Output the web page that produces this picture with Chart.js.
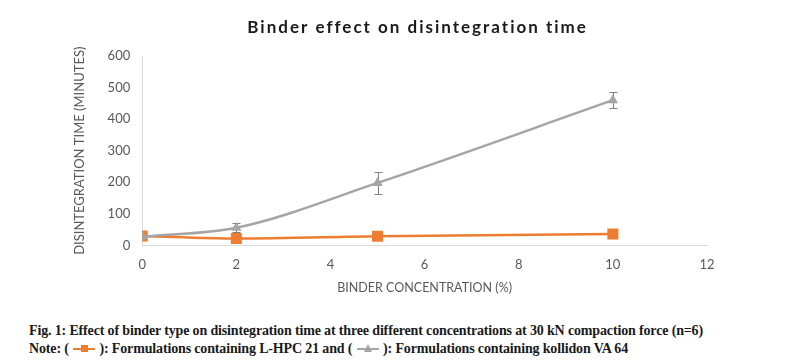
<!DOCTYPE html>
<html><head><meta charset="utf-8">
<script src="https://cdn.jsdelivr.net/npm/chart.js@4.4.0/dist/chart.umd.min.js"></script>
<style>
html,body{margin:0;padding:0;background:#fff;width:787px;height:362px;overflow:hidden;}
#wrap{position:relative;width:787px;height:362px;}
#c{position:absolute;left:0;top:0;}
#cap{position:absolute;left:29px;top:322px;font-family:"Liberation Serif","Times New Roman",serif;font-weight:bold;font-size:14px;line-height:18px;color:#1a1a1a;white-space:nowrap;letter-spacing:-0.15px;}
.ic{display:inline-block;position:relative;width:22px;height:10px;vertical-align:-1px;margin:0 1px;}
.ic .ln{position:absolute;left:0;right:0;top:4px;height:2px;}
.ic .sq{position:absolute;left:8px;top:1px;width:7px;height:7px;background:#ed7d31;}
.ic .tr{position:absolute;left:7px;top:0px;width:0;height:0;border-left:4px solid transparent;border-right:4px solid transparent;border-bottom:8px solid #a5a5a5;}
</style></head>
<body><div id="wrap">
<canvas id="c" width="787" height="305"></canvas>
<div id="cap">Fig. 1: Effect of binder type on disintegration time at three different concentrations at 30 kN compaction force (n=6)<br>Note: ( <span class="ic"><span class="ln" style="background:#ed7d31"></span><span class="sq"></span></span> ): Formulations containing L-HPC 21 and ( <span class="ic"><span class="ln" style="background:#a5a5a5"></span><span class="tr"></span></span> ): Formulations containing kollidon VA 64</div>
</div>
<script>
const chartTitle = 'Binder effect on disintegration time';
const xTitle = 'BINDER CONCENTRATION (%)';
const yTitle = 'DISINTEGRATION TIME (MINUTES)';
const concentrations = [0, 2, 5, 10];
const lhpcTimes = [30, 22, 29, 36];
const lhpcErrors = [0, 0, 0, 0];
const kollidonTimes = [28, 56, 198, 460];
const kollidonErrors = [0, 15, 36, 26];

const errorBarPlugin = {
  id: 'errorBars',
  beforeDatasetsDraw(chart) {
    const ctx = chart.ctx;
    const xs = chart.scales.x, ys = chart.scales.y;
    chart.data.datasets.forEach((ds) => {
      if (!ds.errors) return;
      ds.data.forEach((p, i) => {
        const e = ds.errors[i];
        if (!e) return;
        const px = Math.round(xs.getPixelForValue(p.x)) + 0.5;
        const top = Math.round(ys.getPixelForValue(p.y + e)) + 0.5;
        const bot = Math.round(ys.getPixelForValue(p.y - e)) + 0.5;
        ctx.save();
        ctx.strokeStyle = '#7f7f7f';
        ctx.lineWidth = 1;
        ctx.beginPath();
        ctx.moveTo(px, top); ctx.lineTo(px, bot);
        ctx.moveTo(px - 4, top); ctx.lineTo(px + 4, top);
        ctx.moveTo(px - 4, bot); ctx.lineTo(px + 4, bot);
        ctx.stroke();
        ctx.restore();
      });
    });
  }
};

const spacedTitlePlugin = {
  id: 'spacedTitle',
  afterDraw(chart, args, opts) {
    const ctx = chart.ctx;
    const area = chart.chartArea;
    ctx.save();
    ctx.font = 'bold 17px Lato';
    ctx.letterSpacing = '2px';
    ctx.fillStyle = '#1a1a1a';
    ctx.textAlign = 'center';
    ctx.textBaseline = 'middle';
    ctx.fillText(opts.text, (area.left + area.right) / 2 - 7, area.top - 28);
    ctx.restore();
  }
};

const tickFont = {family: 'Lato', size: 13};
new Chart(document.getElementById('c'), {
  type: 'scatter',
  data: {
    datasets: [
      {
        label: 'Formulations containing kollidon VA 64',
        data: concentrations.map((x, i) => ({x: x, y: kollidonTimes[i]})),
        errors: kollidonErrors,
        showLine: true,
        borderColor: '#a5a5a5',
        backgroundColor: '#a5a5a5',
        borderWidth: 2.5,
        pointStyle: 'triangle',
        pointRadius: 6,
        pointBorderWidth: 0,
        cubicInterpolationMode: 'monotone'
      },
      {
        label: 'Formulations containing L-HPC 21',
        data: concentrations.map((x, i) => ({x: x, y: lhpcTimes[i]})),
        errors: lhpcErrors,
        showLine: true,
        borderColor: '#ed7d31',
        backgroundColor: '#ed7d31',
        borderWidth: 2.5,
        pointStyle: 'rect',
        pointRadius: 7.8,
        pointBorderWidth: 0,
        cubicInterpolationMode: 'monotone'
      }
    ]
  },
  options: {
    responsive: false,
    animation: false,
    layout: {padding: {left: 68, right: 80, top: 56, bottom: 6}},
    plugins: {
      legend: {display: false},
      tooltip: {enabled: false},
      title: {display: false},
      spacedTitle: {text: chartTitle}
    },
    scales: {
      x: {
        type: 'linear', min: 0, max: 12,
        ticks: {stepSize: 2, color: '#595959', font: tickFont, padding: 12},
        grid: {display: false, drawTicks: false},
        border: {display: true, color: '#d9d9d9'},
        title: {display: true, text: xTitle, color: '#595959', font: {family: 'Lato', size: 12.5}, padding: {top: -5, bottom: 4}}
      },
      y: {
        min: 0, max: 600,
        ticks: {stepSize: 100, color: '#595959', font: tickFont, padding: 12},
        grid: {display: false, drawTicks: false},
        border: {display: true, color: '#d9d9d9'},
        title: {display: true, text: yTitle, color: '#595959', font: {family: 'Lato', size: 13}, padding: {top: 4, bottom: 8}}
      }
    }
  },
  plugins: [errorBarPlugin, spacedTitlePlugin]
});
</script>
</body></html>
